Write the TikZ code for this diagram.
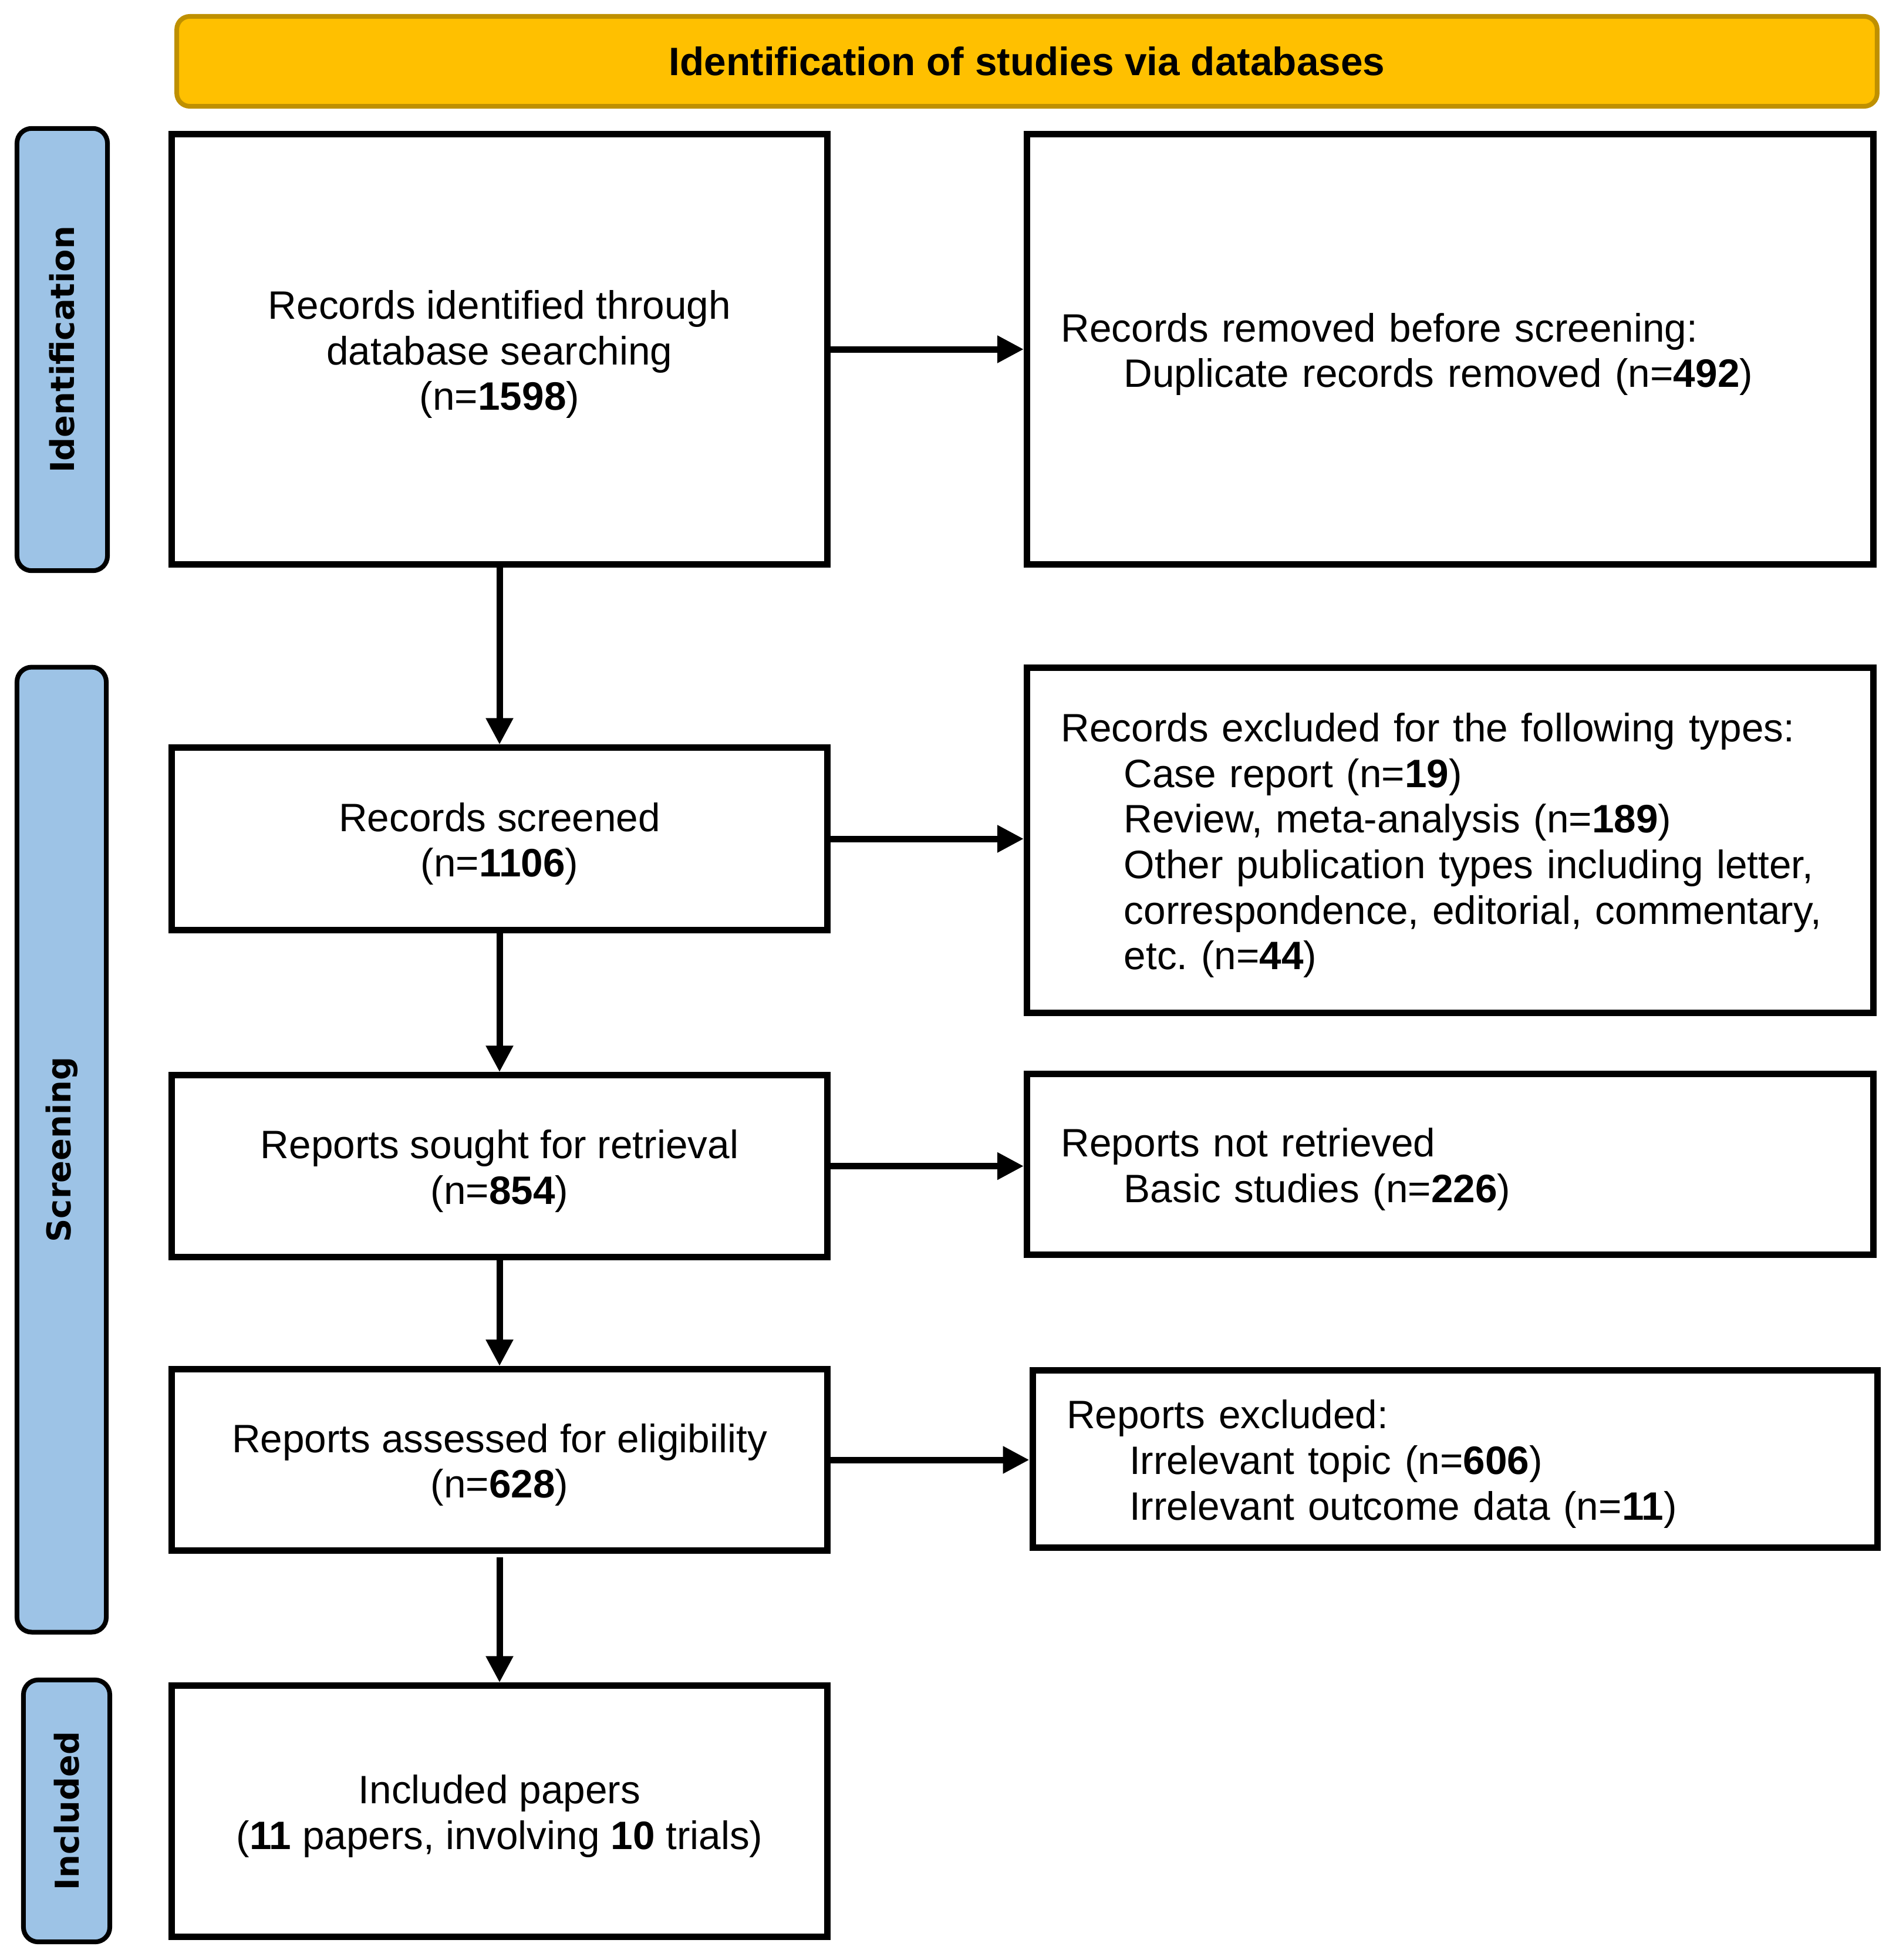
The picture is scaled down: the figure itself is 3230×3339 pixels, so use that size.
\documentclass[tikz,border=0pt]{standalone}
\usepackage{fontspec}
\setmainfont{Liberation Sans}
\newfontfamily\sidefont{DejaVu Sans}
\usetikzlibrary{arrows.meta}
\definecolor{hdrfill}{HTML}{FFC000}
\definecolor{hdrline}{HTML}{BF9000}
\definecolor{sidefill}{HTML}{9DC3E6}
\newcommand{\subind}{\hspace*{1.07cm}}
\newcommand{\tp}{\rule{0pt}{18.8pt}}
\frenchspacing
\begin{document}
\begin{tikzpicture}[x=0.01cm,y=-0.01cm,
  box/.style={draw=black, line width=0.11cm, fill=white, inner sep=0pt, align=center,
    font=\fontsize{19.2pt}{22.1pt}\selectfont},
  rbox/.style={box, align=left, inner xsep=0.58cm},
  sidebox/.style={draw=black, line width=0.08cm, fill=sidefill, rounded corners=0.25cm,
    inner sep=0pt, rotate=90, font=\sidefont\bfseries\fontsize{15.9pt}{19pt}\selectfont},
  hdr/.style={draw=hdrline, line width=0.08cm, fill=hdrfill, rounded corners=0.22cm,
    inner sep=0pt, font=\bfseries\fontsize{19.2pt}{22pt}\selectfont},
  arr/.style={line width=0.11cm, -{Triangle[length=0.45cm, width=0.44cm]}}
]
\useasboundingbox (0,0) rectangle (3230,3339);

% header
\node[hdr, minimum width=28.95cm, minimum height=1.53cm] (hd) at (1749.5,104.5)
  {Identification of studies via databases};

% side labels
\node[sidebox, minimum width=7.53cm, minimum height=1.54cm] (sI) at (106,595.5) {Identification};
\node[sidebox, minimum width=16.43cm, minimum height=1.52cm] (sS) at (105,1958.5) {Screening};
\node[sidebox, minimum width=4.46cm, minimum height=1.47cm] (sN) at (113.5,3085) {Included};

% left column
\node[box, minimum width=11.155cm, minimum height=7.335cm] (b1) at (851,595)
  {\tp Records identified through\\database searching\\(n=\textbf{1598})};
\node[box, minimum width=11.155cm, minimum height=3.10cm] (scr) at (851,1429)
  {\tp Records screened\\(n=\textbf{1106})};
\node[box, minimum width=11.155cm, minimum height=3.09cm] (sou) at (851,1986.5)
  {\tp Reports sought for retrieval\\(n=\textbf{854})};
\node[box, minimum width=11.155cm, minimum height=3.085cm] (ass) at (851,2487)
  {\tp Reports assessed for eligibility\\(n=\textbf{628})};
\node[box, minimum width=11.155cm, minimum height=4.27cm] (inc) at (851,3085.5)
  {\tp Included papers\\(\textbf{11} papers, involving \textbf{10} trials)};

% right column
\node[rbox, text width=13.25cm, minimum width=14.41cm, minimum height=7.335cm] (rem) at (2470.5,595)
  {\tp Records removed before screening:\\\subind Duplicate records removed (n=\textbf{492})};
\node[rbox, text width=13.25cm, minimum width=14.41cm, minimum height=5.87cm] (exc) at (2470.5,1431.5)
  {\tp Records excluded for the following types:\\
   \subind Case report (n=\textbf{19})\\
   \subind Review, meta-analysis (n=\textbf{189})\\
   \subind Other publication types including letter,\\
   \subind correspondence, editorial, commentary,\\
   \subind etc. (n=\textbf{44})};
\node[rbox, text width=13.25cm, minimum width=14.41cm, minimum height=3.07cm] (nr) at (2470.5,1983.5)
  {\tp Reports not retrieved\\\subind Basic studies (n=\textbf{226})};
\node[rbox, text width=13.23cm, minimum width=14.39cm, minimum height=3.01cm] (rex) at (2479,2485.5)
  {\tp Reports excluded:\\
   \subind Irrelevant topic (n=\textbf{606})\\
   \subind Irrelevant outcome data (n=\textbf{11})};

% arrows
\draw[arr] (b1.south) -- (scr.north);
\draw[arr] (scr.south) -- (sou.north);
\draw[arr] (sou.south) -- (ass.north);
\draw[arr, shorten <=0.06cm] (ass.south) -- (inc.north);
\draw[arr] (b1.east) -- (b1.east -| rem.west);
\draw[arr] (scr.east) -- (scr.east -| exc.west);
\draw[arr] (sou.east) -- (sou.east -| nr.west);
\draw[arr] (ass.east) -- (ass.east -| rex.west);
\end{tikzpicture}
\end{document}
